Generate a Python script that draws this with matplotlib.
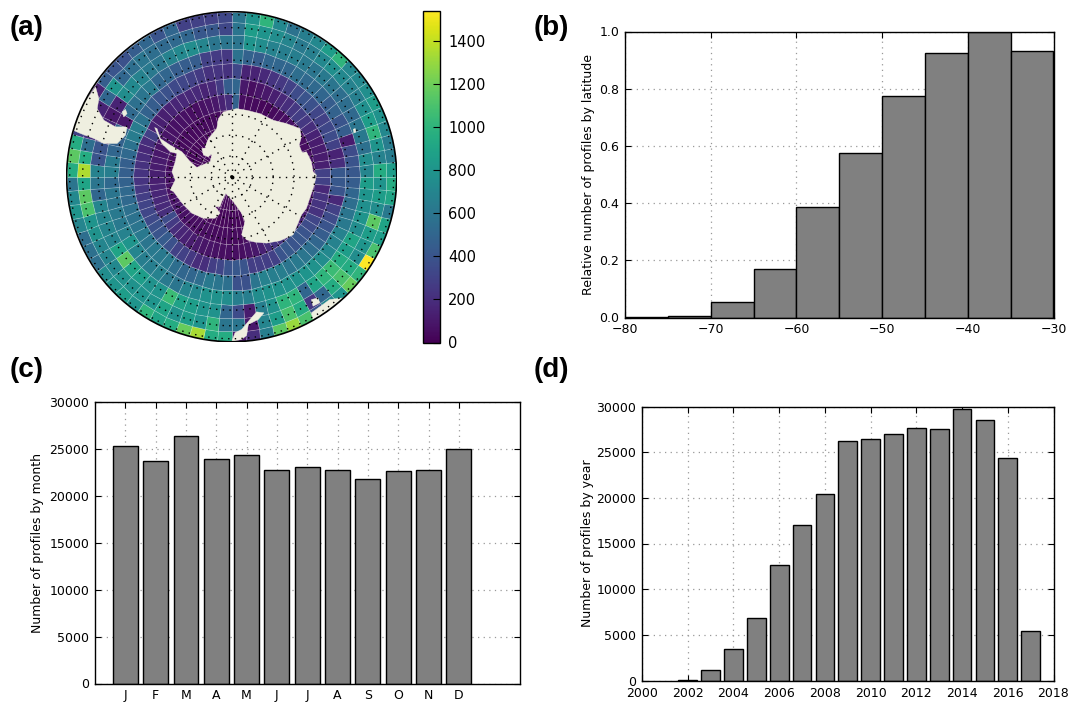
import numpy as np
import matplotlib
matplotlib.use('Agg')
import matplotlib.pyplot as plt
from matplotlib.patches import Circle, Polygon
from matplotlib.cm import ScalarMappable
from matplotlib.colors import Normalize

W, H = 1070, 702

# (a) map: profile counts per cell; sectors of 5 deg clockwise from the top, rings from the rim inward
ring_edges = [497, 465, 427, 385, 342, 296, 250, 202, 153, 100, 50, 0]
parallels = [62, 125, 188, 250, 301, 351, 402, 449, 488]
ring0 = [600,800,1000,720,580,650,720,850,1000,720,720,760,850,780,720,640,640,850,
         950,900,620,900,850,1100,1540,1000,1180,800,700,400,1100,1300,1150,650,200,100,
         950,950,1340,1180,950,900,1000,800,850,800,750,560,560,550,700,800,720,600,
         950,1150,950,300,150,150,150,450,400,380,450,500,400,500,300,300,300,330]
ring1 = [600,850,800,750,700,620,660,720,760,720,680,660,760,850,1000,800,680,950,
         800,850,750,1150,850,800,750,950,1100,950,500,250,950,1100,850,700,100,600,
         600,1000,800,850,780,900,800,800,780,780,720,700,700,780,800,1100,1150,900,
         1350,950,550,200,150,150,500,800,500,550,600,550,520,520,500,420,420,330]
ring2 = [600,800,750,680,650,650,620,600,620,600,550,550,520,600,620,560,750,700,
         850,800,760,800,750,900,850,950,1050,1000,900,500,1000,1000,780,650,120,350,
         500,780,800,850,880,1050,800,780,850,900,1150,900,700,700,700,700,500,600,
         680,400,400,150,150,100,150,750,720,680,620,600,680,720,750,700,600,600]
ring3 = [580,480,450,500,500,500,550,520,520,500,450,480,400,450,120,350,400,420,
         450,500,550,600,620,680,680,720,750,780,800,780,780,780,780,750,650,650,
         750,780,780,720,700,600,620,680,650,650,700,800,680,620,620,600,600,520,
         650,620,500,480,480,100,520,560,600,620,500,500,450,450,450,300,270,250]
ring4 = [330,150,150,180,230,250,300,350,400,380,320,300,330,350,300,150,200,420,
         420,400,170,300,350,400,450,500,550,600,620,600,650,650,680,600,380,380,
         560,600,620,550,500,500,550,620,620,620,600,620,600,580,560,520,520,480,
         460,460,520,580,640,640,580,480,450,400,380,340,320,300,260,220,230,220]
ring5 = [500,100,60,80,100,130,170,200,250,280,250,200,150,120,120,120,130,300,
         300,170,230,230,220,320,350,400,420,400,430,400,300,280,280,280,400,420,
         400,320,280,200,190,250,300,300,380,440,400,380,340,320,310,280,250,230,
         230,220,200,170,200,300,150,130,130,150,160,170,170,180,150,180,260,450]
ring6 = [480,50,40,40,30,30,40,50,60,70,80,70,60,60,60,70,80,90,
         80,70,70,80,100,120,140,180,200,200,220,240,200,140,100,80,60,60,
         60,60,70,80,90,110,120,140,160,200,260,350,200,180,170,160,150,130,
         130,120,110,100,90,90,80,70,70,70,70,60,60,70,80,100,150,200]
ring7 = [40] * 18 + [50,50,50,50,50,50,60,60,70,70,70,70,60,60,50,50,40,40,
         40,40,40,40,50,50,50,60,60,70,70,80,100,80,70,70,70,70,
         70,60,60,50,50,50,40,40,40,40,40,40,40,40,40,40,40,40]
ring8 = [30] * 72
ring9 = [30] * 72
ring10 = [30] * 72
cell_counts = [ring0, ring1, ring2, ring3, ring4, ring5, ring6, ring7, ring8, ring9, ring10]
colorbar_ticks = [0, 200, 400, 600, 800, 1000, 1200, 1400]

# land outlines, map units (x right, y down, from the pole)
antarctica_xy = [(-25,-195),(15,-205),(45,-200),(85,-190),(125,-170),(165,-160),(205,-145),(210,-120),(203,-95),
 (213,-70),(180,-65),(225,-75),(240,-45),(245,-15),(255,-5),(247,30),(235,65),(225,95),(210,115),(185,175),
 (145,193),(105,200),(70,197),(45,190),(30,175),(40,135),(30,110),(5,75),(-18,50),(-30,75),(-35,90),(-50,90),
 (-35,110),(-50,125),(-85,125),(-120,110),(-140,90),(-153,75),(-175,45),(-185,40),(-170,10),(-180,-15),
 (-170,-45),(-165,-70),(-185,-75),(-210,-100),(-220,-120),(-232,-148),(-225,-145),(-215,-115),(-185,-95),
 (-150,-75),(-125,-45),(-105,-28),(-65,-45),(-60,-65),(-80,-90),(-70,-115),(-45,-145),(-40,-175)]
berkner_xy = [(-90,-85),(-75,-87),(-60,-70),(-70,-60),(-85,-65)]
south_america_xy = [(-410,-270),(-400,-235),(-405,-205),(-385,-170),(-350,-150),(-315,-150),(-320,-125),(-345,-100),
 (-385,-100),(-415,-115),(-455,-130),(-500,-150),(-500,-300),(-435,-235)]
falkland_xy = [(-330,-195),(-320,-203),(-315,-190),(-325,-180)]
tasmania_xy = [(97,410),(75,407),(55,430),(30,460),(10,470),(0,497),(30,490),(45,478),(50,445),(80,430)]
new_zealand_xy = [(240,410),(295,370),(335,365),(340,370),(295,405),(245,430)]
nz_north_xy = [(240,370),(260,365),(265,380),(245,390)]
kerguelen_xy = [(366,-143),(372,-145),(374,-135),(368,-132)]
land_outlines = [antarctica_xy, berkner_xy, south_america_xy, falkland_xy, tasmania_xy, new_zealand_xy, nz_north_xy, kerguelen_xy]

# (b) latitude histogram
lat_edges = [-80, -75, -70, -65, -60, -55, -50, -45, -40, -35, -30]
lat_relative = [0.002, 0.006, 0.053, 0.168, 0.385, 0.575, 0.775, 0.925, 1.0, 0.932]

# (c) months
month_labels = ['J', 'F', 'M', 'A', 'M', 'J', 'J', 'A', 'S', 'O', 'N', 'D']
month_counts = [25300, 23700, 26400, 23900, 24300, 22800, 23100, 22700, 21800, 22650, 22700, 25000]

# (d) years
years = list(range(2002, 2018))
year_counts = [100, 1200, 3400, 6800, 12700, 17000, 20400, 26200, 26400, 27000, 27700, 27500, 29700, 28500, 24400, 5400]

plt.rcParams['font.family'] = 'DejaVu Sans'
plt.rcParams['font.size'] = 9
fig = plt.figure(figsize=(W / 100, H / 100), dpi=100)


def axes_px(x0, y0, x1, y1):
    return fig.add_axes([x0 / W, 1 - y1 / H, (x1 - x0) / W, (y1 - y0) / H])


def style(ax):
    ax.grid(True, linestyle=(0, (1, 3.5)), color='0.6', linewidth=0.9)
    ax.set_axisbelow(True)
    ax.tick_params(direction='in', top=True, right=True, length=4, width=0.8, labelsize=9, pad=4)
    for s in ax.spines.values():
        s.set_linewidth(1.0)


# map
cx, cy, rad = 231.7, 176.7, 165.7
ax = axes_px(cx - rad, cy - rad, cx + rad, cy + rad)
R = ring_edges[0]
bearing = np.deg2rad(np.arange(0, 365, 5))
rr = np.array(ring_edges, float)
X = np.outer(rr, np.sin(bearing))
Y = np.outer(rr, np.cos(bearing))
norm = Normalize(0, 1540)
circ = Circle((0, 0), R, transform=ax.transData)
mesh = ax.pcolormesh(X, Y, np.array(cell_counts, float), cmap='viridis', norm=norm,
                     edgecolor=(1, 1, 1, 0.22), linewidth=0.5, antialiased=True, zorder=1)
mesh.set_clip_path(circ)
for xy in land_outlines:
    pts = np.array(xy, float) * [1, -1]
    p = Polygon(pts, closed=True, facecolor='#efefe0', edgecolor='#efefe0', linewidth=0.3, zorder=2)
    ax.add_patch(p)
    p.set_clip_path(circ)
t = np.linspace(0, 2 * np.pi, 400)
dots = (0, (1, 3.8))
for r in parallels:
    ax.plot(r * np.cos(t), r * np.sin(t), color='k', lw=1.0, ls=dots, zorder=3)
for b in np.arange(0, 360, 30):
    ax.plot([0, 250 * np.sin(np.deg2rad(b))], [0, 250 * np.cos(np.deg2rad(b))],
            color='k', lw=1.0, ls=dots, zorder=3)
ax.plot(0, 0, 'o', color='k', ms=1.8, zorder=3)
ax.add_patch(Circle((0, 0), R, facecolor='none', edgecolor='k', linewidth=1.2, zorder=4))
ax.set_xlim(-R - 2, R + 2)
ax.set_ylim(-R - 2, R + 2)
ax.set_aspect('equal')
ax.axis('off')

# colorbar
cax = axes_px(423, 10.5, 440, 342.5)
cb = fig.colorbar(ScalarMappable(norm=norm, cmap='viridis'), cax=cax, ticks=colorbar_ticks)
cb.ax.tick_params(direction='in', length=5, width=0.8, labelsize=10.5, pad=6, right=True)
cb.outline.set_linewidth(1.0)

# (b)
ax = axes_px(625, 31.5, 1053.5, 317.5)
ax.bar(lat_edges[:-1], lat_relative, width=5, align='edge', color='0.5', edgecolor='k', linewidth=1.0)
ax.set_xlim(-80, -30)
ax.set_ylim(0, 1)
ax.set_xticks(np.arange(-80, -20, 10))
ax.set_yticks(np.arange(0, 1.01, 0.2))
ax.set_ylabel('Relative number of profiles by latitude', labelpad=3, fontsize=9)
style(ax)

# (c)
ax = axes_px(95, 402, 519.5, 683.5)
ax.bar(np.arange(1, 13), month_counts, width=0.82, color='0.5', edgecolor='k', linewidth=1.0)
ax.set_xlim(0, 14)
ax.set_ylim(0, 30000)
ax.set_xticks(np.arange(1, 13))
ax.set_xticklabels(month_labels)
ax.set_yticks(np.arange(0, 30001, 5000))
ax.set_ylabel('Number of profiles by month', labelpad=4, fontsize=9)
style(ax)

# (d)
ax = axes_px(642, 406.5, 1053.5, 680.5)
ax.bar(years, year_counts, width=0.82, color='0.5', edgecolor='k', linewidth=1.0)
ax.set_xlim(2000, 2018)
ax.set_ylim(0, 30000)
ax.set_xticks(np.arange(2000, 2019, 2))
ax.set_yticks(np.arange(0, 30001, 5000))
ax.set_ylabel('Number of profiles by year', labelpad=2, fontsize=9)
style(ax)
ax.tick_params(axis='x', pad=5)

for lab, x, y in [('(a)', 10, 35), ('(b)', 534, 35), ('(c)', 10, 377), ('(d)', 534, 377)]:
    fig.text(x / W, 1 - y / H, lab, fontsize=20, fontweight='bold', family='Liberation Sans', va='baseline')

fig.savefig('out.png', dpi=100)
